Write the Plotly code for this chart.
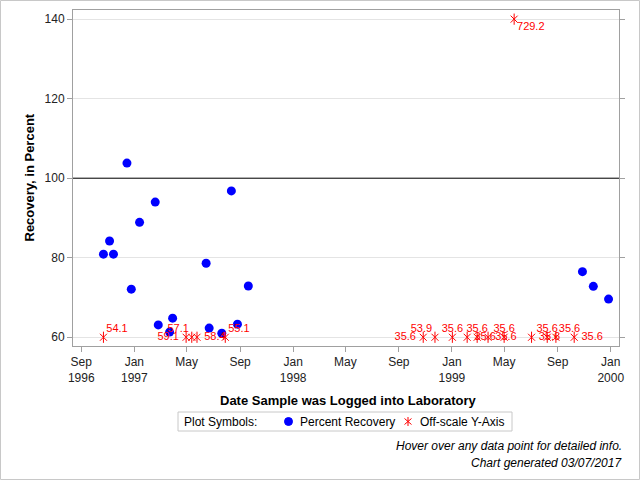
import numpy as np
import pandas as pd
import plotly.graph_objects as go

# ---- data ----
rec_dates = ["1996-10-22", "1996-11-05", "1996-11-14", "1996-12-15", "1996-12-25",
             "1997-01-13", "1997-02-18", "1997-02-25", "1997-03-23", "1997-03-30",
             "1997-06-15", "1997-06-22", "1997-07-21", "1997-08-12", "1997-08-26",
             "1997-09-20", "1999-10-28", "1999-11-22", "1999-12-27"]
rec_values = [80.9, 84.2, 80.9, 103.8, 72.1, 88.9, 94.0, 63.1, 61.3, 64.8,
              78.6, 62.3, 61.0, 96.8, 63.3, 72.9, 76.5, 72.8, 69.6]

off_dates = ["1996-10-22", "1997-04-30", "1997-05-13", "1997-05-25", "1997-07-29",
             "1998-10-27", "1998-11-23", "1999-01-02", "1999-02-05", "1999-02-28",
             "1999-03-25", "1999-05-01", "1999-05-24", "1999-07-03",
             "1999-08-08", "1999-08-28", "1999-10-09"]
off_values = [54.1, 59.1, 57.1, 58.4, 55.1,
              35.6, 53.9, 35.6, 35.6, 35.6,
              35.6, 35.6, 729.2, 35.6,
              35.6, 35.6, 35.6]
off_textpos = ["top right", "middle left", "top left", "middle right", "top right",
               "middle left", "top left", "top center", "middle right", "top center",
               "middle right", "top center", "bottom right", "middle right",
               "top center", "top right", "middle right"]

y_ticks = [60, 80, 100, 120, 140]
x_tick_dates = ["1996-09-01", "1997-01-01", "1997-05-01", "1997-09-01", "1998-01-01",
                "1998-05-01", "1998-09-01", "1999-01-01", "1999-05-01", "1999-09-01",
                "2000-01-01"]
x_tick_labels = ["Sep<br>1996", "Jan<br>1997", "May", "Sep", "Jan<br>1998", "May",
                 "Sep", "Jan<br>1999", "May", "Sep", "Jan<br>2000"]

Y_MIN, Y_MAX = 60, 140
FONT = "Arial, Liberation Sans, sans-serif"
RED = "#ff0000"
BLUE = "#0000ff"

off_plot_y = np.clip(np.array(off_values), Y_MIN, Y_MAX)
# label offset from the star: wider gap for side labels, tight for top/bottom ones
label_gap = [10 if p.startswith("middle") else 3 for p in off_textpos]

fig = go.Figure()
fig.add_trace(go.Scatter(
    x=pd.to_datetime(rec_dates), y=rec_values, mode="markers",
    name="Percent Recovery",
    marker=dict(color=BLUE, size=9, symbol="circle"),
))
fig.add_trace(go.Scatter(
    x=pd.to_datetime(off_dates), y=off_plot_y, mode="markers",
    name="Off-scale Y-Axis", showlegend=False,
    marker=dict(color=RED, size=7, symbol="x-thin-open",
                line=dict(color=RED, width=1)),
    cliponaxis=False,
))
fig.add_trace(go.Scatter(
    x=pd.to_datetime(off_dates), y=off_plot_y, mode="markers",
    name="Off-scale Y-Axis",
    marker=dict(color=RED, size=8, symbol="line-ns-open",
                line=dict(color=RED, width=1)),
    cliponaxis=False,
))
fig.add_trace(go.Scatter(
    x=pd.to_datetime(off_dates), y=off_plot_y, mode="markers+text",
    name="Off-scale labels", showlegend=False, hoverinfo="skip",
    text=[f"{v:.1f}" for v in off_values], textposition=off_textpos,
    textfont=dict(color=RED, size=11, family=FONT),
    marker=dict(color="rgba(0,0,0,0)", size=label_gap, line=dict(width=0)),
    cliponaxis=False,
))

fig.add_shape(type="line", xref="paper", yref="y", x0=0, x1=1, y0=100, y1=100,
              line=dict(color="black", width=1))

L, R, T, B = 73, 21, 10, 134
W, H = 640, 480
pw, ph = W - L - R, H - T - B


def py(pix):
    return (H - B - pix) / ph


def px(pix):
    return (pix - L) / pw


# outer border
fig.add_shape(type="rect", xref="paper", yref="paper",
              x0=px(0.5), x1=px(W - 0.5), y0=py(H - 0.5), y1=py(0.5),
              line=dict(color="#c8c8c8", width=1), layer="below")

# manual legend
leg_y = 421.5
fig.add_shape(type="rect", xref="paper", yref="paper",
              x0=px(178), x1=px(512), y0=py(431), y1=py(412),
              line=dict(color="#c8c8c8", width=1))
fig.add_shape(type="circle", xref="paper", yref="paper",
              xsizemode="pixel", ysizemode="pixel",
              xanchor=px(288.5), yanchor=py(leg_y),
              x0=-4, x1=4, y0=-4, y1=4,
              fillcolor=BLUE, line=dict(color=BLUE, width=1))
fig.add_shape(type="path", xref="paper", yref="paper",
              xsizemode="pixel", ysizemode="pixel",
              xanchor=px(408), yanchor=py(leg_y),
              path="M 0,-4.5 L 0,4.5 M -3.5,-3 L 3.5,3 M -3.5,3 L 3.5,-3",
              line=dict(color=RED, width=1))
fig.add_annotation(text="Plot Symbols:", xref="paper", yref="paper",
                   x=px(182), y=py(leg_y), xanchor="left", yanchor="middle",
                   showarrow=False, font=dict(size=12, family=FONT, color="black"))
fig.add_annotation(text="Percent Recovery", xref="paper", yref="paper",
                   x=px(298), y=py(leg_y), xanchor="left", yanchor="middle",
                   showarrow=False, font=dict(size=12, family=FONT, color="black"))
fig.add_annotation(text="Off-scale Y-Axis", xref="paper", yref="paper",
                   x=px(418), y=py(leg_y), xanchor="left", yanchor="middle",
                   showarrow=False, font=dict(size=12, family=FONT, color="black"))

fig.add_annotation(text="<b>Date Sample was Logged into Laboratory</b>", xref="paper",
                   yref="paper", x=px(348), y=py(400), showarrow=False,
                   yanchor="middle",
                   font=dict(size=13, family=FONT, color="black"))
fig.add_annotation(text="<b>Recovery, in Percent</b>", xref="paper", yref="paper",
                   x=px(19), y=py(178), textangle=-90, showarrow=False,
                   font=dict(size=13, family=FONT, color="black"))
fig.add_annotation(text="<i>Hover over any data point for detailed info.</i>",
                   xref="paper", yref="paper", x=px(624), y=py(446), xanchor="right",
                   yanchor="middle",
                   showarrow=False, font=dict(size=12, family=FONT, color="black"))
fig.add_annotation(text="<i>Chart generated 03/07/2017</i>",
                   xref="paper", yref="paper", x=px(624), y=py(463), xanchor="right",
                   yanchor="middle",
                   showarrow=False, font=dict(size=12, family=FONT, color="black"))

fig.update_layout(
    width=W, height=H,
    margin=dict(l=L, r=R, t=T, b=B, autoexpand=False),
    paper_bgcolor="white", plot_bgcolor="white",
    font=dict(family=FONT, size=12, color="black"),
    showlegend=False,
    xaxis=dict(type="date", automargin=False,
               range=["1996-08-13", "2000-01-20"],
               tickvals=pd.to_datetime(x_tick_dates), ticktext=x_tick_labels,
               ticks="outside", ticklen=5, tickcolor="#a0a0a0",
               showline=True, linecolor="#a0a0a0", mirror=True,
               showgrid=False, zeroline=False,
               tickfont=dict(size=12, family=FONT, color="#222222")),
    yaxis=dict(range=[57.8, 142.3], tickvals=y_ticks, automargin=False,
               ticks="outside", ticklen=5, tickcolor="#a0a0a0",
               showline=True, linecolor="#a0a0a0", mirror="ticks",
               showgrid=True, gridcolor="#e4e4e4", zeroline=False,
               tickfont=dict(size=12, family=FONT, color="#222222")),
)

fig.write_html("out.html",
               config={"displayModeBar": False},
               post_script="document.body.style.margin='0';"
                           "document.body.style.overflow='hidden';")
